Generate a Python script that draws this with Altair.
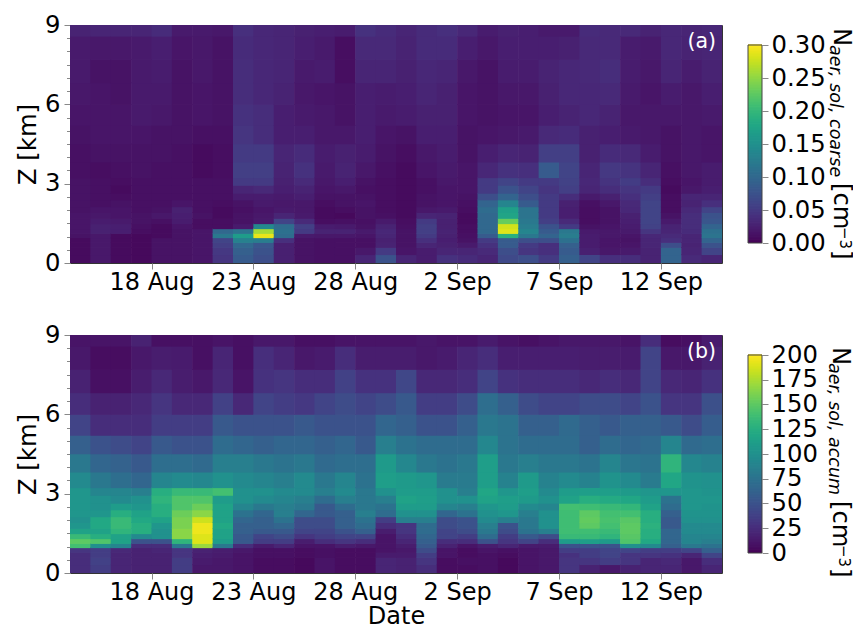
import altair as alt
import pandas as pd
import numpy as np

z_edges = [0, .3, .57, .76, .94, 1.1, 1.28, 1.47, 1.67, 1.89, 2.11, 2.37, 2.62, 2.92, 3.21, 3.8, 4.49, 5.19, 5.98, 6.8, 7.68, 8.56, 9.0]
day_ticks = [4, 9, 14, 19, 24, 29]
day_labels = ['18 Aug', '23 Aug', '28 Aug', '2 Sep', '7 Sep', '12 Sep']

# panel (a), thousandths of cm-3, one list per day, bottom level first
coarse = [
 [8,8,8,8,14,16,16,16,16,14,14,14,14,14,12,12,14,16,18,20,20,28],
 [18,18,18,18,18,26,26,22,18,16,12,12,12,12,10,14,16,16,16,14,18,30],
 [8,8,8,8,8,24,24,20,16,16,14,10,8,10,12,14,16,16,14,14,18,30],
 [6,6,6,6,6,10,12,14,14,12,12,12,12,12,14,14,16,20,20,20,20,30],
 [14,14,14,14,8,8,8,12,18,14,12,12,12,12,12,14,14,18,20,22,24,36],
 [14,14,14,14,14,14,16,22,24,26,16,12,12,12,12,12,14,14,14,14,16,20],
 [16,16,16,16,16,16,10,10,14,12,12,12,12,12,8,8,12,16,16,18,18,20],
 [45,48,55,60,120,100,10,10,8,8,10,12,12,12,10,10,12,14,14,14,14,18],
 [85,90,100,130,165,115,20,14,14,12,14,22,30,50,55,50,45,42,38,38,36,40],
 [70,75,80,125,290,260,140,20,18,16,20,22,34,50,55,50,38,38,32,32,32,32],
 [25,25,25,40,105,110,105,60,30,20,18,20,24,26,28,30,24,24,28,30,30,30],
 [14,14,14,14,20,50,55,35,20,18,18,24,28,35,42,36,24,20,18,20,24,26],
 [12,12,12,12,18,28,22,10,8,8,10,14,16,18,20,22,18,18,16,22,20,24],
 [12,12,12,12,18,28,20,12,6,10,14,14,18,24,28,26,18,14,14,10,10,22],
 [30,18,12,12,16,20,14,12,14,14,16,14,12,14,18,22,24,24,24,30,34,42],
 [75,50,28,26,30,32,28,20,12,10,10,10,10,10,12,14,16,20,22,30,34,36],
 [30,16,14,14,14,14,12,10,8,8,8,8,8,8,8,10,14,22,24,26,28,30],
 [22,22,30,40,50,55,55,50,30,18,14,14,12,12,16,18,24,26,30,32,36,36],
 [42,30,26,24,26,28,26,26,28,20,16,16,16,18,20,22,24,26,26,30,36,40],
 [36,30,20,14,12,10,10,8,8,10,12,14,16,16,16,14,14,16,16,18,24,32],
 [30,35,42,50,85,100,100,100,100,105,95,70,50,50,32,24,16,14,14,14,18,22],
 [65,70,85,85,190,285,280,230,175,170,135,95,75,60,42,30,18,16,18,22,24,26],
 [70,45,50,70,120,135,125,120,115,115,85,70,60,50,40,28,20,16,18,22,24,24],
 [50,40,40,70,95,85,75,55,50,50,50,50,45,50,85,55,34,24,26,28,24,20],
 [90,85,90,110,125,120,50,35,24,24,26,38,55,58,60,55,36,28,32,32,26,20],
 [60,25,22,22,22,20,14,10,10,10,12,20,30,32,30,26,26,32,32,34,34,36],
 [40,18,16,16,18,18,16,14,14,14,18,26,38,44,48,36,24,28,34,38,34,34],
 [38,20,16,14,16,20,22,24,26,32,34,40,45,52,44,34,20,18,20,22,22,34],
 [28,28,30,30,32,45,58,60,60,60,60,55,50,38,30,22,18,18,16,18,20,28],
 [95,95,70,40,35,30,28,20,14,10,10,10,8,10,12,14,14,18,22,30,32,32],
 [35,30,28,30,30,36,38,38,38,34,28,30,18,16,18,18,18,18,18,22,28,30],
 [30,60,75,95,115,110,95,80,75,60,40,30,24,22,22,16,16,20,24,28,30,32],
]
# panel (b), cm-3, one list per day, bottom level first
accum = [
 [25,25,25,30,140,150,135,115,105,100,105,105,105,105,95,80,60,40,25,18,12,10],
 [35,38,35,35,100,145,125,115,120,120,105,100,100,90,80,65,50,25,18,8,6,10],
 [20,20,20,22,90,115,115,130,135,135,125,110,95,90,72,62,45,25,18,8,6,10],
 [18,18,18,18,25,50,95,125,125,120,115,105,100,85,65,55,40,25,22,15,12,18],
 [18,18,18,20,25,50,100,100,105,115,125,125,130,125,90,72,55,35,30,22,15,8],
 [35,35,30,30,80,130,165,165,160,160,155,145,145,135,95,72,50,35,22,15,14,8],
 [12,14,16,18,170,190,190,195,195,185,165,155,145,135,92,68,50,35,22,12,8,8],
 [12,12,14,15,80,110,115,115,120,115,115,115,110,140,100,85,70,55,38,22,20,10],
 [10,10,10,12,25,55,55,60,60,65,75,90,100,100,95,85,65,50,22,10,8,8],
 [6,6,8,8,14,35,40,55,60,60,65,80,95,100,90,80,60,50,40,28,26,12],
 [6,6,8,8,20,35,45,55,65,75,85,85,90,95,85,76,65,50,35,30,20,12],
 [4,4,6,6,10,15,30,40,45,45,65,80,85,95,95,80,65,55,32,25,12,8],
 [10,10,8,8,10,25,35,40,45,45,55,55,70,85,80,68,60,50,40,25,14,8],
 [6,6,6,6,15,30,40,50,60,60,60,70,85,95,90,72,65,50,45,38,25,10],
 [6,6,6,6,12,25,40,60,70,75,85,80,80,80,75,72,55,50,40,28,15,10],
 [20,20,14,10,10,10,10,15,25,35,70,75,85,100,112,108,85,65,45,28,15,10],
 [18,18,14,12,15,20,25,30,30,85,100,110,115,110,108,92,75,60,55,42,15,10],
 [25,30,35,45,55,60,65,70,70,85,100,110,112,110,105,80,70,50,35,22,12,12],
 [6,6,10,10,18,25,40,40,45,45,65,90,100,100,82,75,70,50,35,22,14,10],
 [6,8,6,6,10,25,35,45,50,50,75,85,100,85,82,80,70,60,45,25,20,10],
 [8,8,8,10,15,50,70,80,85,95,100,105,115,118,112,112,92,80,72,40,25,14],
 [4,4,6,8,20,30,35,45,50,85,105,110,112,105,88,80,76,76,60,28,16,10],
 [10,10,10,10,14,40,55,75,80,80,85,95,108,112,108,85,70,60,45,25,16,8],
 [12,12,12,12,14,25,45,85,100,100,100,90,100,95,88,80,70,60,40,25,16,10],
 [30,30,28,35,50,110,135,138,138,138,138,140,115,110,95,80,70,68,40,25,16,12],
 [18,30,35,35,50,112,135,138,150,152,150,138,125,112,88,76,60,60,45,22,15,12],
 [12,35,40,40,50,108,130,135,140,142,140,135,122,112,102,90,70,55,45,25,15,12],
 [18,30,30,40,100,145,148,150,150,148,140,132,118,108,95,78,65,60,40,22,14,10],
 [20,20,30,35,95,120,125,125,128,125,125,115,110,105,82,76,68,60,50,40,40,25],
 [20,22,28,35,60,65,65,65,55,55,60,70,75,105,118,130,90,55,30,22,12,6],
 [12,12,20,40,80,90,90,95,95,100,102,105,105,105,102,92,68,45,30,20,12,8],
 [20,25,40,60,75,85,90,95,95,100,102,102,105,102,100,88,72,58,48,28,18,14],
]
ticks_a = [0.00, 0.05, 0.10, 0.15, 0.20, 0.25, 0.30]
ticks_b = [0, 25, 50, 75, 100, 125, 150, 175, 200]
FS = 24.3


def table(columns, factor):
    rows = []
    for d, col in enumerate(columns):
        for k, v in enumerate(col):
            # small overlap between neighbouring cells hides anti-aliasing seams
            rows.append(dict(d0=d, d1=d + 1.03, z0=z_edges[k], z1=z_edges[k + 1] + 0.03, v=v * factor))
    return pd.DataFrame(rows)


def heat(columns, factor, vmax, tag, show_title):
    cs = alt.Scale(scheme='viridis', domain=[0, vmax])
    lab = "[" + ",".join(f"'{s}'" for s in day_labels) + "]"
    xaxis = alt.Axis(values=day_ticks, labelExpr=f"{lab}[round((datum.value-4)/5)]", tickSize=6,
                     labelFontSize=24, titleFontSize=24, titleFontWeight='normal', labelPadding=1,
                     title='Date' if show_title else None, grid=False, domain=False,
                     labelOverlap=False, labelFlush=False, titlePadding=0)
    yaxis = alt.Axis(values=[i * 0.5 for i in range(19)], format='.1f',
                     labelExpr="datum.value % 3 === 0 ? format(datum.value,'d') : ''",
                     tickSize={"condition": {"test": "datum.value % 3 === 0", "value": 6}, "value": 3.5},
                     labelFontSize=FS, titleFontSize=FS, titleFontWeight='normal', grid=False,
                     domain=False, title='Z [km]', labelOverlap=False, labelFlush=False, labelPadding=4, titlePadding=4)
    rect = alt.Chart(table(columns, factor)).mark_rect(clip=True).encode(
        x=alt.X('d0:Q', axis=xaxis, scale=alt.Scale(domain=[0, 32], nice=False, zero=False)),
        x2='d1:Q',
        y=alt.Y('z0:Q', axis=yaxis, scale=alt.Scale(domain=[0, 9], nice=False, zero=False)),
        y2='z1:Q',
        color=alt.Color('v:Q', scale=cs, legend=None),
    )
    t = alt.Chart(pd.DataFrame({'t': [tag]})).mark_text(color='white', fontSize=20.5, align='right', baseline='middle').encode(
        x=alt.value(646), y=alt.value(17), text='t:N')
    return alt.layer(rect, t).resolve_scale(color='independent').properties(width=652, height=238)


def cbar(vmax, ticks, fmt, sub, base, ys):
    cs = alt.Scale(scheme='viridis', domain=[0, vmax])
    n = 128
    lv = np.linspace(0, vmax, n + 1)
    df = pd.DataFrame({'a': lv[:-1], 'b': lv[1:] + vmax / n * 0.5, 'c': (lv[:-1] + lv[1:]) / 2})
    pad = vmax * 20 / 198
    sc = alt.Scale(domain=[-pad, vmax + pad], nice=False, zero=False)
    ax = alt.Axis(orient='right', values=ticks, format=fmt, labelFontSize=FS, tickSize=6, domain=False,
                  grid=False, title=None, labelOverlap=False, labelFlush=False, labelPadding=3)
    r = alt.Chart(df).mark_rect().encode(
        x=alt.value(0), x2=alt.value(14),
        y=alt.Y('a:Q', axis=ax, scale=sc), y2='b:Q',
        color=alt.Color('c:Q', scale=cs, legend=None))
    frame = alt.Chart(pd.DataFrame({'a': [0], 'b': [vmax]})).mark_rect(fill=None, stroke='#444', strokeWidth=1).encode(
        x=alt.value(0), x2=alt.value(14), y=alt.Y('a:Q', axis=ax, scale=sc), y2='b:Q')
    def txt(s, x, y, size, italic=False):
        return alt.Chart(pd.DataFrame({'t': [s]})).mark_text(
            angle=90, align='left', baseline='alphabetic', fontSize=size,
            fontStyle='italic' if italic else 'normal', color='black').encode(
            x=alt.value(x), y=alt.value(y), text='t:N')
    parts = [txt('N', base, ys[0], FS), txt(sub, base - 4, ys[1], 17.5, True),
             txt('[cm', base, ys[2], FS), txt('\u22123', base + 6, ys[3], 15), txt(']', base, ys[4], FS)]
    return alt.layer(r, frame, *parts).properties(width=14, height=238, view=alt.ViewBackground(stroke=None))


chart = alt.concat(
    heat(coarse, 0.001, 0.3, '(a)', False), cbar(0.3, ticks_a, '.2f', 'aer, sol, coarse', 86, [3, 20, 158, 202, 225]),
    heat(accum, 1, 200, '(b)', True), cbar(200, ticks_b, 'd', 'aer, sol, accum', 85, [12, 28, 166, 210, 233]),
    columns=2, spacing={'row': 72, 'column': 26}, bounds='flush'
).properties(
    padding={'left': 8, 'top': 4, 'right': 0, 'bottom': 0}
).resolve_scale(color='independent', x='independent', y='independent'
).configure(font='DejaVu Sans').configure_view(stroke='#333', strokeWidth=1)
chart.save("out.html", embed_options={"renderer": "svg", "actions": False})
